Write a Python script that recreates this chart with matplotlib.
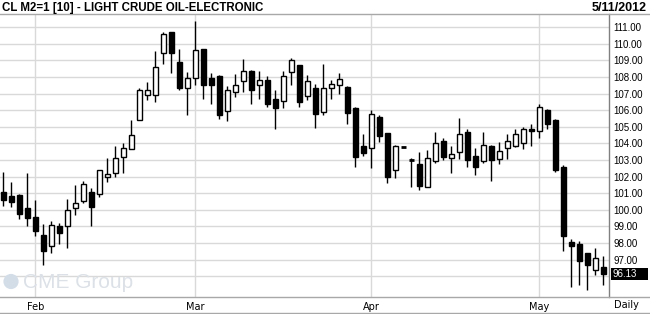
import matplotlib.pyplot as plt
import numpy as np
import pandas as pd
from matplotlib.lines import Line2D
from matplotlib.patches import Rectangle
import matplotlib.transforms as mtransforms

# daily bars, CL M2 (light crude, electronic), Jan 26 - May 11 2012
dates = pd.bdate_range("2012-01-26", "2012-05-11")
dates = dates[dates != pd.Timestamp("2012-02-20")]

opens = [101.05, 100.85, 100.9, 100.1, 99.55, 98.5, 97.8, 99.05, 99.0, 100.1,
         100.55, 101.1, 100.95, 102.0, 102.25, 103.2, 103.65, 105.4, 106.9, 106.9,
         109.45, 110.7, 108.9, 107.35, 107.95, 109.7, 107.95, 108.05, 105.95, 107.1,
         107.75, 108.35, 107.55, 107.85, 106.7, 106.55, 108.3, 108.7, 106.85, 107.35,
         105.9, 107.35, 107.55, 107.4, 106.15, 103.85, 103.7, 105.6, 104.65, 102.4,
         103.8, 103.0, 102.75, 101.35, 102.95, 104.15, 103.15, 103.5, 104.7, 103.25,
         102.95, 103.85, 103.05, 103.7, 103.85, 104.0, 104.9, 104.75, 106.0, 105.4,
         102.6, 98.05, 97.95, 97.4, 96.4, 96.55]
highs = [102.3, 101.7, 100.95, 102.25, 100.6, 99.15, 99.35, 99.2, 100.65, 101.5,
         101.75, 101.3, 102.4, 103.15, 103.85, 104.0, 105.4, 107.35, 107.7, 109.55,
         110.7, 110.7, 109.7, 108.3, 111.35, 109.7, 108.25, 108.15, 107.45, 108.2,
         109.1, 108.4, 108.35, 108.05, 107.2, 108.35, 109.15, 108.75, 108.15, 107.6,
         108.8, 107.85, 108.25, 107.45, 106.2, 104.6, 106.0, 105.7, 104.65, 103.9,
         103.8, 103.1, 103.5, 103.6, 104.7, 104.35, 103.85, 105.55, 104.9, 103.7,
         104.7, 103.9, 104.1, 104.55, 104.9, 105.0, 105.15, 106.4, 106.1, 105.45,
         102.7, 98.25, 98.1, 97.4, 97.7, 97.2]
lows = [100.25, 100.2, 99.45, 99.0, 98.4, 96.65, 97.4, 97.95, 97.7, 99.7,
        100.4, 99.0, 100.8, 101.65, 102.0, 102.25, 103.65, 105.4, 106.6, 106.5,
        108.8, 108.25, 107.2, 105.7, 107.5, 106.7, 106.35, 105.5, 105.35, 106.8,
        107.1, 106.35, 106.7, 106.2, 104.9, 106.15, 107.5, 106.2, 106.6, 104.95,
        105.7, 106.7, 107.0, 105.15, 102.6, 103.25, 102.55, 104.1, 101.6, 101.9,
        103.8, 101.35, 101.2, 101.35, 102.85, 103.0, 102.25, 103.05, 102.6, 102.1,
        102.8, 101.75, 102.75, 103.05, 103.8, 103.65, 103.85, 104.35, 104.9, 102.3,
        97.5, 95.35, 95.5, 95.15, 96.05, 95.5]
closes = [100.6, 100.5, 99.75, 99.5, 98.7, 97.5, 99.1, 98.6, 100.0, 100.4,
          101.55, 100.2, 102.4, 102.15, 103.1, 103.7, 104.5, 107.2, 107.25, 108.6,
          110.6, 109.45, 107.35, 107.95, 109.65, 107.55, 107.55, 105.7, 107.2, 107.55,
          108.35, 107.25, 107.8, 106.4, 106.15, 108.05, 109.0, 106.5, 107.75, 105.75,
          107.35, 107.6, 107.9, 105.85, 103.2, 103.45, 105.8, 104.45, 101.95, 103.85,
          103.8, 103.0, 101.45, 103.15, 104.05, 103.2, 103.35, 104.6, 103.0, 102.6,
          103.9, 103.0, 103.55, 104.15, 104.55, 104.9, 104.75, 106.2, 105.15, 102.4,
          98.4, 97.85, 96.95, 96.7, 97.1, 96.13]

price_ticks = list(range(96, 112))
last_price = closes[-1]

o = np.array(opens)
h = np.array(highs)
l = np.array(lows)
c = np.array(closes)
x = np.arange(len(dates))

fig = plt.figure(figsize=(6.5, 3.14), dpi=100)
ax = fig.add_axes([0, 17.3 / 314, 609.3 / 650, 282.4 / 314])

grid_col = "#d9d9d9"
ax.vlines(x, l, h, color="black", linewidth=1, zorder=3)
up = c > o
down = c < o
flat = c == o
bw = 0.6
ax.bar(x[up], (c - o)[up], bottom=o[up], width=bw, facecolor="white",
       edgecolor="black", linewidth=1, zorder=4)
ax.bar(x[down], (o - c)[down], bottom=c[down], width=bw, facecolor="black",
       edgecolor="black", linewidth=1, zorder=4)
ax.hlines(o[flat], x[flat] - bw / 2, x[flat] + bw / 2, color="black", linewidth=2, zorder=4)

ax.set_xlim(-0.41, 75.75)
ax.set_ylim(94.77, 111.78)

# month ticks at first bar of each month
month_idx = [i for i in range(1, len(dates)) if dates[i].month != dates[i - 1].month]
ax.set_xticks(month_idx)
ax.set_xticklabels([dates[i].strftime("%b") for i in month_idx], fontsize=7,
                   family="DejaVu Sans")
ax.set_yticks(price_ticks)
ax.set_yticklabels(["" if p == 96 else f"{p:.2f}" for p in price_ticks],
                   fontsize=7, family="Liberation Sans")
ax.yaxis.tick_right()
ax.tick_params(axis="y", length=0, pad=3)
ax.tick_params(axis="x", length=0, pad=4)
ax.grid(True, color=grid_col, linewidth=1, zorder=0)
ax.set_axisbelow(True)

for s in ["top", "left", "bottom"]:
    ax.spines[s].set_visible(False)
ax.spines["right"].set_color("#808080")
ax.spines["right"].set_linewidth(1)

# last price box
trans = mtransforms.blended_transform_factory(ax.transAxes, ax.transData)
ax.add_patch(Rectangle((1.003, last_price - 0.36), 0.06, 0.72, transform=trans,
                       facecolor="black", edgecolor="none", clip_on=False, zorder=5))
ax.text(1.006, last_price, f"{last_price:.2f}", transform=trans, color="white",
        fontsize=7, family="Liberation Sans", va="center", ha="left", zorder=6)

# watermark
ax.scatter([11 / 609.3], [1 - (281.5 - 14.3) / 282.4], s=120, marker="o",
           transform=ax.transAxes, color="#d3dde8", edgecolors="none", zorder=1)
ax.text(23 / 609.3, 1 - (282 - 14.3) / 282.4, "CME Group", transform=ax.transAxes,
        fontsize=15, family="Liberation Sans", color="#dce1e7", va="center",
        ha="left", zorder=1)

# frame lines
for yy in [14.3, 296.7, 313.3]:
    fig.add_artist(Line2D([0, 1], [1 - yy / 314] * 2, color="#a8a8a8", linewidth=1))

fig.text(2 / 650, 1 - 8 / 314, "CL M2=1 [10] - LIGHT CRUDE OIL-ELECTRONIC",
         fontsize=8.3, fontweight="bold", family="Liberation Sans", va="center", ha="left")
fig.text(647 / 650, 1 - 8 / 314, "5/11/2012", fontsize=9, fontweight="bold",
         family="Liberation Sans", va="center", ha="right")
fig.text(626 / 650, 1 - 305 / 314, "Daily", fontsize=7, family="DejaVu Sans",
         va="center", ha="center")

fig.savefig("out.png", dpi=100)
